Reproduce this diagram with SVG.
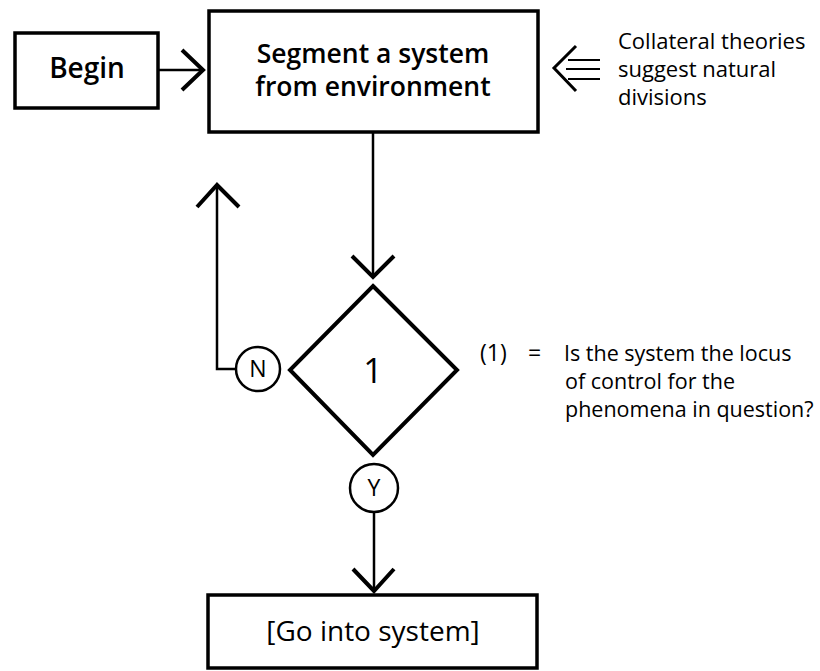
<svg xmlns="http://www.w3.org/2000/svg" width="820" height="671" viewBox="0 0 820 671">
<style>
.box{fill:#fff;stroke:#000;stroke-width:3.5}
.dia{fill:#fff;stroke:#000;stroke-width:4}
.circ{fill:#fff;stroke:#000;stroke-width:2.5}
.ln{fill:none;stroke:#000;stroke-width:2.5}
.hd{fill:none;stroke:#000;stroke-width:4;stroke-linecap:butt;stroke-linejoin:miter}
.bt{font-family:"Open Sans","Noto Sans","Liberation Sans",sans-serif;font-weight:600;font-size:26.5px;text-anchor:middle;fill:#000}
.t{font-family:"Open Sans","Noto Sans","Liberation Sans",sans-serif;font-size:22px;fill:#000}
.c{font-family:"Open Sans","Noto Sans","Liberation Sans",sans-serif;font-size:23px;text-anchor:middle;fill:#000}
</style>
<g id="connectors">
<line class="ln" x1="158" y1="70" x2="203" y2="70"/>
<polyline class="hd" points="182,50 203,70 182,90"/>
<line class="ln" x1="373" y1="132" x2="373" y2="277"/>
<polyline class="hd" points="352,256 373,277 394,256"/>
<polyline class="ln" points="235,369 217,369 217,185"/>
<polyline class="hd" points="197,207 217,185 239,207"/>
<line class="ln" x1="374" y1="512" x2="374" y2="592"/>
<polyline class="hd" points="353,569 374,591 394,569"/>
<polyline class="hd" points="576,46 554,68 576,91" style="stroke-width:3"/>
<line class="ln" x1="568" y1="60" x2="600" y2="60" style="stroke-width:2"/>
<line class="ln" x1="566" y1="69" x2="600" y2="69" style="stroke-width:2"/>
<line class="ln" x1="568" y1="79" x2="600" y2="79" style="stroke-width:2"/>
</g>
<g id="begin">
<rect class="box" x="15" y="33" width="143" height="75"/>
<text class="bt" x="87" y="78" style="font-size:28px">Begin</text>
</g>
<g id="segment">
<rect class="box" x="209" y="11" width="329" height="121"/>
<text class="bt" x="373" y="63">Segment a system</text>
<text class="bt" x="373" y="96">from environment</text>
</g>
<g id="collateral">
<text class="t" x="618" y="49">Collateral theories</text>
<text class="t" x="618" y="77">suggest natural</text>
<text class="t" x="618" y="105">divisions</text>
</g>
<g id="decision1">
<polygon class="dia" points="373,286 457,370 373,455 290,370"/>
<text class="c" x="373" y="383" style="font-size:34px">1</text>
</g>
<g id="n">
<circle class="circ" cx="258" cy="369" r="22"/>
<text class="c" x="258" y="377">N</text>
</g>
<g id="y">
<circle class="circ" cx="374" cy="488" r="24"/>
<text class="c" x="374" y="496">Y</text>
</g>
<g id="note1">
<text class="t" x="480" y="361" style="font-size:23px">(1)</text>
<text class="t" x="528" y="361" style="font-size:23px">=</text>
<text class="t" x="564" y="361" style="font-size:21.5px">Is the system the locus</text>
<text class="t" x="565" y="389" style="font-size:21.5px">of control for the</text>
<text class="t" x="565" y="417" style="font-size:21.5px">phenomena in question?</text>
</g>
<g id="go">
<rect class="box" x="208" y="595" width="329" height="73"/>
<text class="bt" x="373" y="641" style="font-weight:500;font-size:28px">[Go into system]</text>
</g>
</svg>
